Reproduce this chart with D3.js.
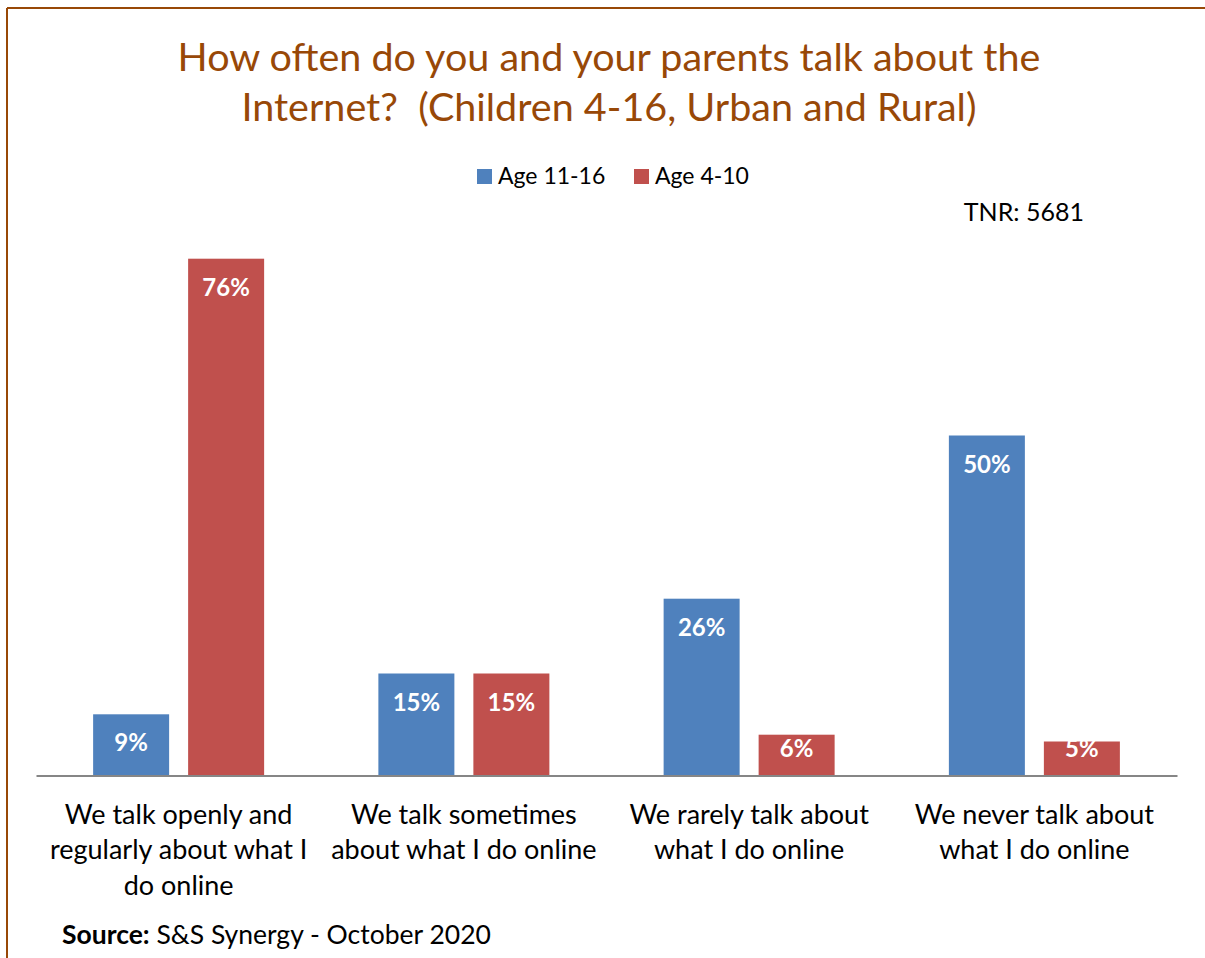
<!DOCTYPE html>
<html>
<head>
<meta charset="utf-8">
<script src="https://cdn.jsdelivr.net/npm/d3@7"></script>
<style>
  html, body { margin: 0; padding: 0; background: #fff; }
  svg { display: block; }
  text { font-family: Lato, "Open Sans", sans-serif; white-space: pre; }
</style>
</head>
<body>
<svg id="chart" width="1205" height="958"></svg>
<script>
// Survey answers (x axis categories), one label line per array entry
const categories = [
  ["We talk openly and", "regularly about what I", "do online"],
  ["We talk sometimes", "about what I do online"],
  ["We rarely talk about", "what I do online"],
  ["We never talk about", "what I do online"]
];
const seriesNames = ["Age 11-16", "Age 4-10"];
const age11to16 = [9, 15, 26, 50];
const age4to10 = [76, 15, 6, 5];

const titleLines = ["How often do you and your parents talk about the", "Internet?  (Children 4-16, Urban and Rural)"];
const sampleNote = "TNR: 5681";
const sourceLabel = "Source:";
const sourceText = " S&S Synergy - October 2020";

const colors = ["#4F81BD", "#C0504D"];
const brown = "#984807";

const svg = d3.select("#chart");
const W = 1205, H = 958;

// Frame lines along top and left edge
svg.append("line").attr("x1", 7).attr("x2", W).attr("y1", 8).attr("y2", 8)
  .attr("stroke", brown).attr("stroke-width", 2);
svg.append("line").attr("x1", 7).attr("x2", 7).attr("y1", 8).attr("y2", H)
  .attr("stroke", brown).attr("stroke-width", 2);

// Title
svg.append("text")
  .attr("text-anchor", "middle")
  .attr("fill", brown).style("font-size", "39.5px")
  .selectAll("tspan").data(titleLines).join("tspan")
  .attr("x", 609).attr("y", (d, i) => 71 + i * 50)
  .text(d => d);

// Legend
const legend = svg.append("g");
const legendX = [477, 634];
seriesNames.forEach((name, i) => {
  legend.append("rect").attr("x", legendX[i]).attr("y", 169)
    .attr("width", 15).attr("height", 15).attr("fill", colors[i]);
  legend.append("text").attr("x", legendX[i] + 21).attr("y", 184)
    .style("font-size", "23px").attr("fill", "#000").text(name);
});

svg.append("text").attr("x", 1084).attr("y", 221).attr("text-anchor", "end")
  .style("font-size", "25px").attr("fill", "#000").text(sampleNote);

// Scales
const x0 = d3.scaleBand().domain(d3.range(categories.length)).range([36, 1177]);
const barW = 76, gap = 19;
const y = d3.scaleLinear().domain([0, 80]).range([775.5, 231.5]);

const data = categories.map((c, i) => ({ i, values: [age11to16[i], age4to10[i]] }));

const groups = svg.selectAll("g.cat").data(data).join("g")
  .attr("class", "cat")
  .attr("transform", d => `translate(${x0(d.i) + x0.bandwidth() / 2},0)`);

groups.each(function (d) {
  const g = d3.select(this);
  d.values.forEach((v, s) => {
    const bx = s === 0 ? -(barW + gap / 2) : gap / 2;
    g.append("rect")
      .attr("x", bx).attr("y", y(v))
      .attr("width", barW).attr("height", y(0) - y(v))
      .attr("fill", colors[s]);
    g.append("text")
      .attr("x", bx + barW / 2)
      .attr("y", Math.min(y(v) + 37, y(0) - 18.5))
      .attr("text-anchor", "middle")
      .attr("fill", "#fff").style("font-weight", "bold").style("font-size", "24px")
      .text(v + "%");
  });
});

// Axis baseline
const axis = svg.append("g").attr("transform", `translate(0,${y(0)})`)
  .call(d3.axisBottom(x0).tickSize(0).tickFormat(""));
axis.select(".domain").attr("stroke", "#868686").attr("stroke-width", 2);

// Category labels
groups.append("text")
  .attr("text-anchor", "middle").attr("fill", "#000").style("font-size", "27px")
  .selectAll("tspan").data(d => categories[d.i]).join("tspan")
  .attr("x", 0).attr("y", (d, i) => 823.5 + i * 35.7)
  .text(d => d);

// Source note
const src = svg.append("text").attr("x", 62).attr("y", 944)
  .style("font-size", "26.5px").attr("fill", "#000");
src.append("tspan").style("font-weight", "bold").text(sourceLabel);
src.append("tspan").text(sourceText);
</script>
</body>
</html>
